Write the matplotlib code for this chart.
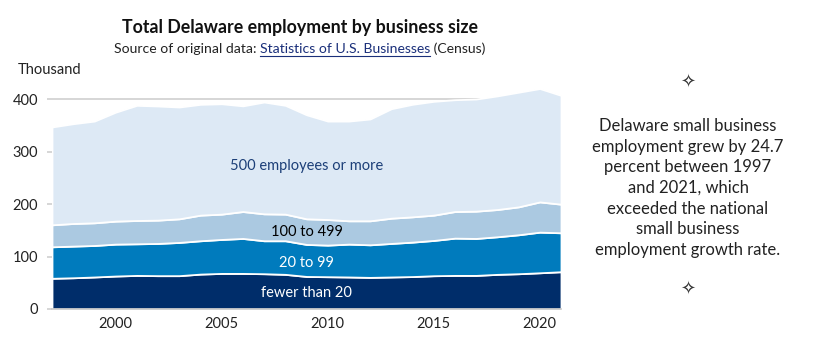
import numpy as np
import matplotlib
matplotlib.use('Agg')
import matplotlib.pyplot as plt

plt.rcParams['font.family'] = ['Lato', 'DejaVu Sans']

# Data input (thousand employees)
years = np.arange(1997, 2022)
# cumulative tops of each band
top_lt20 = [58.5, 59.5, 61, 62.8, 64, 63.5, 63.5, 66.5, 67.8, 67.8, 67.2, 66, 62, 61.5, 61, 60.2,
            61, 61.8, 63.4, 64, 64, 66, 67.2, 69, 71]
top_20_99 = [118.5, 119.8, 121, 123.6, 124.2, 124.9, 126.8, 130, 132.5, 134.4, 130, 130, 123, 121.7,
             123.6, 122.3, 124.9, 127.4, 130.6, 135, 134.4, 137.6, 141.4, 146.4, 145.2]
top_100_499 = [160.4, 162.9, 164.2, 167.4, 168.6, 169.3, 171.8, 178.8, 180.7, 185.7, 181.3, 180.7,
               171.8, 170.5, 168, 168, 173, 175.6, 178.8, 185.7, 186.4, 189.5, 194.6, 204, 199.7]
top_total = [346.8, 353, 358, 375, 388, 386.7, 384.8, 389.9, 391, 387, 394.3, 388, 370, 358, 358,
             362, 381.6, 390, 395.6, 398.7, 400, 406, 413, 420, 407]

labels = ['fewer than 20', '20 to 99', '100 to 499', '500 employees or more']
colors = ['#002d6a', '#007bbd', '#abc9e1', '#dde9f5']
label_colors = ['white', 'white', 'black', '#1c3f78']
label_y = [30, 88, 146, 272]

tops = np.array([top_lt20, top_20_99, top_100_499, top_total])
bands = np.diff(np.vstack([np.zeros(len(years)), tops]), axis=0)

W, H = 815, 342
fig = plt.figure(figsize=(W / 100, H / 100), dpi=100)
ax = fig.add_axes([52 / W, 33 / H, 509 / W, 221 / H])

ax.stackplot(years, bands, colors=colors, edgecolor='white', linewidth=1.3, zorder=2)

ax.set_xlim(1997, 2021)
ax.set_ylim(0, 421)
ax.set_yticks([0, 100, 200, 300, 400])
ax.set_xticks([2000, 2005, 2010, 2015, 2020])
ax.yaxis.grid(True, color='#d0d0d0', linewidth=1.2, zorder=0)
ax.set_axisbelow(True)
for s in ['top', 'right', 'left']:
    ax.spines[s].set_visible(False)
ax.spines['bottom'].set_color('#c8c8c8')
ax.spines['bottom'].set_linewidth(1.2)
ax.spines['bottom'].set_zorder(3)
ax.tick_params(axis='y', length=3.6, color='#d0d0d0', width=1.2, pad=6.5, labelsize=10.5, labelcolor='#222222')
ax.tick_params(axis='x', length=0, pad=6, labelsize=10.5, labelcolor='#222222')

for lab, c, y in zip(labels, label_colors, label_y):
    ax.text(2009, y, lab, ha='center', va='center', color=c, fontsize=10.5, zorder=4)

# titles
fig.text(300 / W, 1 - 28 / H, 'Total Delaware employment by business size', ha='center', va='center',
         fontsize=12.8, fontweight='bold', color='#111111')

parts = [('Source of original data: ', '#222222'), ('Statistics of U.S. Businesses', '#1a2f7a'),
         (' (Census)', '#222222')]
fig.canvas.draw()
r = fig.canvas.get_renderer()
texts = [fig.text(0, 1 - 49 / H, p, fontsize=10.1, color=c, va='center') for p, c in parts]
widths = [t.get_window_extent(r).width for t in texts]
x0 = 300 - sum(widths) / 2
for t, w in zip(texts, widths):
    t.set_x(x0 / W)
    if t.get_text().startswith('Statistics'):
        fig.add_artist(plt.Line2D([x0 / W, (x0 + w) / W], [1 - 55.5 / H, 1 - 55.5 / H],
                                  color='#1a2f7a', linewidth=0.8))
    x0 += w

fig.text(18 / W, 1 - 70 / H, 'Thousand', ha='left', va='center', fontsize=10.5, color='#222222')

# side note
fig.text(688 / W, 1 - 83 / H, '\u2727', ha='center', va='center', fontsize=13, color='#333333')
fig.text(688 / W, 1 - 290 / H, '\u2727', ha='center', va='center', fontsize=13, color='#333333')
note = ('Delaware small business\nemployment grew by 24.7\npercent between 1997\nand 2021, which\n'
        'exceeded the national\nsmall business\nemployment growth rate.')
fig.text(688 / W, 1 - 188 / H, note, ha='center', va='center', fontsize=12, color='#222222',
         linespacing=1.35)

fig.savefig('out.png', dpi=100)
